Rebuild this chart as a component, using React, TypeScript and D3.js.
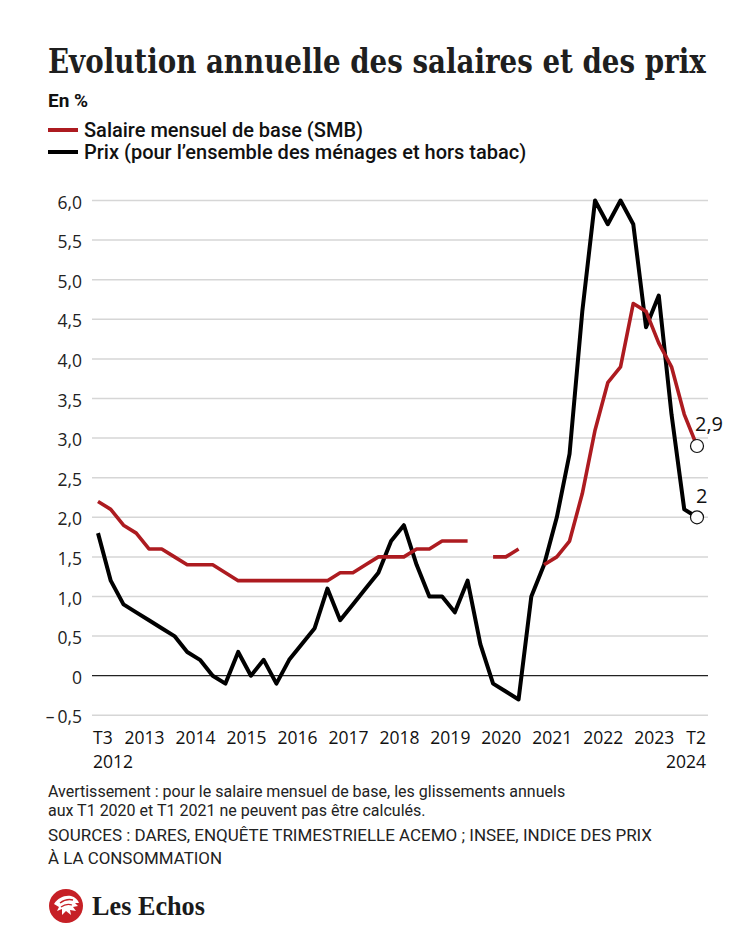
import React, { useEffect, useRef } from "react";
import * as d3 from "d3";

const quarters: string[] = [
  "2012T3","2012T4",
  "2013T1","2013T2","2013T3","2013T4",
  "2014T1","2014T2","2014T3","2014T4",
  "2015T1","2015T2","2015T3","2015T4",
  "2016T1","2016T2","2016T3","2016T4",
  "2017T1","2017T2","2017T3","2017T4",
  "2018T1","2018T2","2018T3","2018T4",
  "2019T1","2019T2","2019T3","2019T4",
  "2020T1","2020T2","2020T3","2020T4",
  "2021T1","2021T2","2021T3","2021T4",
  "2022T1","2022T2","2022T3","2022T4",
  "2023T1","2023T2","2023T3","2023T4",
  "2024T1","2024T2",
];

// Salaire mensuel de base (SMB), glissement annuel en %
const smb: (number | null)[] = [
  2.2, 2.1,
  1.9, 1.8, 1.6, 1.6,
  1.5, 1.4, 1.4, 1.4,
  1.3, 1.2, 1.2, 1.2,
  1.2, 1.2, 1.2, 1.2,
  1.2, 1.3, 1.3, 1.4,
  1.5, 1.5, 1.5, 1.6,
  1.6, 1.7, 1.7, 1.7,
  null, 1.5, 1.5, 1.6,
  null, 1.4, 1.5, 1.7,
  2.3, 3.1, 3.7, 3.9,
  4.7, 4.6, 4.2, 3.9,
  3.3, 2.9,
];

// Prix (ensemble des ménages, hors tabac)
const prix: number[] = [
  1.8, 1.2,
  0.9, 0.8, 0.7, 0.6,
  0.5, 0.3, 0.2, 0.0,
  -0.1, 0.3, 0.0, 0.2,
  -0.1, 0.2, 0.4, 0.6,
  1.1, 0.7, 0.9, 1.1,
  1.3, 1.7, 1.9, 1.4,
  1.0, 1.0, 0.8, 1.2,
  0.4, -0.1, -0.2, -0.3,
  1.0, 1.4, 2.0, 2.8,
  4.6, 6.0, 5.7, 6.0,
  5.7, 4.4, 4.8, 3.3,
  2.1, 2.0,
];

const yTicks: number[] = [-0.5, 0, 0.5, 1, 1.5, 2, 2.5, 3, 3.5, 4, 4.5, 5, 5.5, 6];
const yTickLabels: string[] = ["\u2013\u20090,5", "0", "0,5", "1,0", "1,5", "2,0", "2,5", "3,0", "3,5", "4,0", "4,5", "5,0", "5,5", "6,0"];

const yearTickQuarters: string[] = ["2013T1","2014T1","2015T1","2016T1","2017T1","2018T1","2019T1","2020T1","2021T1","2022T1","2023T1"];
const yearTickLabels: string[] = ["2013","2014","2015","2016","2017","2018","2019","2020","2021","2022","2023"];

const endLabels: string[] = ["2,9", "2"];

const RED = "#ad1b20";
const SANS = "Roboto, 'Noto Sans', sans-serif";
const NUM = "'Open Sans', 'Noto Sans', sans-serif";

function FitText({ x, y, width, children, ...rest }: any) {
  const ref = useRef<SVGTextElement>(null);
  useEffect(() => {
    const el = ref.current;
    if (!el) return;
    el.removeAttribute("transform");
    const len = el.getComputedTextLength();
    const s = len > 0 ? width / len : 1;
    el.setAttribute("transform", `translate(${x},${y}) scale(${s},1)`);
  }, [x, y, width]);
  return (
    <text ref={ref} x={0} y={0} transform={`translate(${x},${y}) scale(0.7,1)`} {...rest}>
      {children}
    </text>
  );
}

export default function App() {
  const W = 750, H = 938;
  const x = d3.scalePoint<string>().domain(quarters).range([98, 697]);
  const y = d3.scaleLinear().domain([-0.5, 6]).range([715.3, 200.5]);

  const lineSmb = d3.line<number | null>()
    .defined((d) => d !== null)
    .x((_, i) => x(quarters[i]) as number)
    .y((d) => y(d as number));
  const linePrix = d3.line<number>()
    .x((_, i) => x(quarters[i]) as number)
    .y((d) => y(d));

  const lastIdx = quarters.length - 1;
  const lastX = x(quarters[lastIdx]) as number;
  const lastSmb = smb[lastIdx] as number;
  const lastPrix = prix[lastIdx];
  const firstX = x(quarters[0]) as number;

  return (
    <svg width={W} height={H} viewBox={`0 0 ${W} ${H}`}
      style={{ position: "absolute", left: 0, top: 0, background: "#fff" }}>
      <rect x={0} y={0} width={W} height={H} fill="#fff" />
      {/* Title */}
      <FitText x={48} y={73} width={658} fontFamily="'DejaVu Serif', serif" fontWeight={700} fontSize={34}
        fill="#1f1f1f">
        Evolution annuelle des salaires et des prix
      </FitText>
      <text x={48} y={107} fontFamily={SANS} fontWeight={700} fontSize={19} fill="#111">En %</text>

      {/* Legend */}
      <line x1={48} x2={78} y1={130} y2={130} stroke={RED} strokeWidth={4} />
      <text x={84} y={137} fontFamily={SANS} fontWeight={500} fontSize={20} fill="#111">Salaire mensuel de base (SMB)</text>
      <line x1={48} x2={78} y1={152} y2={152} stroke="#000" strokeWidth={4} />
      <text x={84} y={159} fontFamily={SANS} fontWeight={500} fontSize={20} fill="#111">Prix (pour l’ensemble des ménages et hors tabac)</text>

      {/* Grid */}
      {yTicks.map((t, i) => (
        <g key={t}>
          <line x1={92} x2={708} y1={y(t)} y2={y(t)}
            stroke={t === 0 ? "#222" : "#d6d6d6"} strokeWidth={t === 0 ? 1.2 : 1.5} />
          <text x={82} y={y(t) + 8} textAnchor="end" fontFamily={NUM} fontSize={17.5} fill="#222">
            {yTickLabels[i]}
          </text>
        </g>
      ))}

      {/* X labels */}
      <text x={firstX - 5} y={744} fontFamily={NUM} fontSize={17.5} fill="#111">T3</text>
      <text x={firstX - 5} y={768} fontFamily={NUM} fontSize={17.5} fill="#111">2012</text>
      {yearTickQuarters.map((q, i) => (
        <text key={q} x={(x(q) as number) + 1} y={744} fontFamily={NUM} fontSize={17.5} fill="#111">
          {yearTickLabels[i]}
        </text>
      ))}
      <text x={lastX + 9} y={744} textAnchor="end" fontFamily={NUM} fontSize={17.5} fill="#111">T2</text>
      <text x={lastX + 9} y={768} textAnchor="end" fontFamily={NUM} fontSize={17.5} fill="#111">2024</text>

      {/* Lines */}
      <path d={linePrix(prix) || ""} fill="none" stroke="#000" strokeWidth={4} strokeLinejoin="round" />
      <path d={lineSmb(smb) || ""} fill="none" stroke={RED} strokeWidth={3.6} strokeLinejoin="round" />

      {/* End markers */}
      <circle cx={lastX} cy={y(lastSmb)} r={6.5} fill="#fff" stroke="#111" strokeWidth={1.2} />
      <circle cx={lastX} cy={y(lastPrix)} r={6.5} fill="#fff" stroke="#111" strokeWidth={1.2} />
      <text x={lastX - 2} y={y(lastSmb) - 15} fontFamily={NUM} fontSize={20} fill="#111">{endLabels[0]}</text>
      <text x={lastX - 1} y={y(lastPrix) - 14} fontFamily={NUM} fontSize={20} fill="#111">{endLabels[1]}</text>

      {/* Footer */}
      <text x={48} y={797} fontFamily={SANS} fontSize={16} fill="#222">
        Avertissement : pour le salaire mensuel de base, les glissements annuels
      </text>
      <text x={48} y={816} fontFamily={SANS} fontSize={16} fill="#222">
        aux T1 2020 et T1 2021 ne peuvent pas être calculés.
      </text>
      <text x={48} y={841} fontFamily={SANS} fontSize={16} fill="#222" textLength={604} lengthAdjust="spacingAndGlyphs">
        SOURCES : DARES, ENQUÊTE TRIMESTRIELLE ACEMO ; INSEE, INDICE DES PRIX
      </text>
      <text x={48} y={864} fontFamily={SANS} fontSize={16} fill="#222" textLength={174} lengthAdjust="spacingAndGlyphs">
        À LA CONSOMMATION
      </text>

      {/* Logo */}
      <g transform="translate(66,906)">
        <circle r={17} fill="#c62026" />
        <path d="M-12,-2 C-8,-8 -2,-11 5,-10 C9,-9 12,-6 13,-3 L9,-3 L12,0 L7,1 L10,5 L4,4 L5,9 L0,5 L-4,9 L-4,3 L-9,5 L-7,1 Z"
          fill="#fff" />
        <path d="M-6,-3 C-2,-6 3,-7 7,-6" fill="none" stroke="#c62026" strokeWidth={1.4} />
        <path d="M-5,1 C-1,-2 3,-2 6,-1" fill="none" stroke="#c62026" strokeWidth={1.2} />
      </g>
      <FitText x={92} y={915} width={113} fontFamily="'Liberation Serif', serif" fontWeight={700} fontSize={27}
        fill="#1a1a1a">Les Echos</FitText>
    </svg>
  );
}
